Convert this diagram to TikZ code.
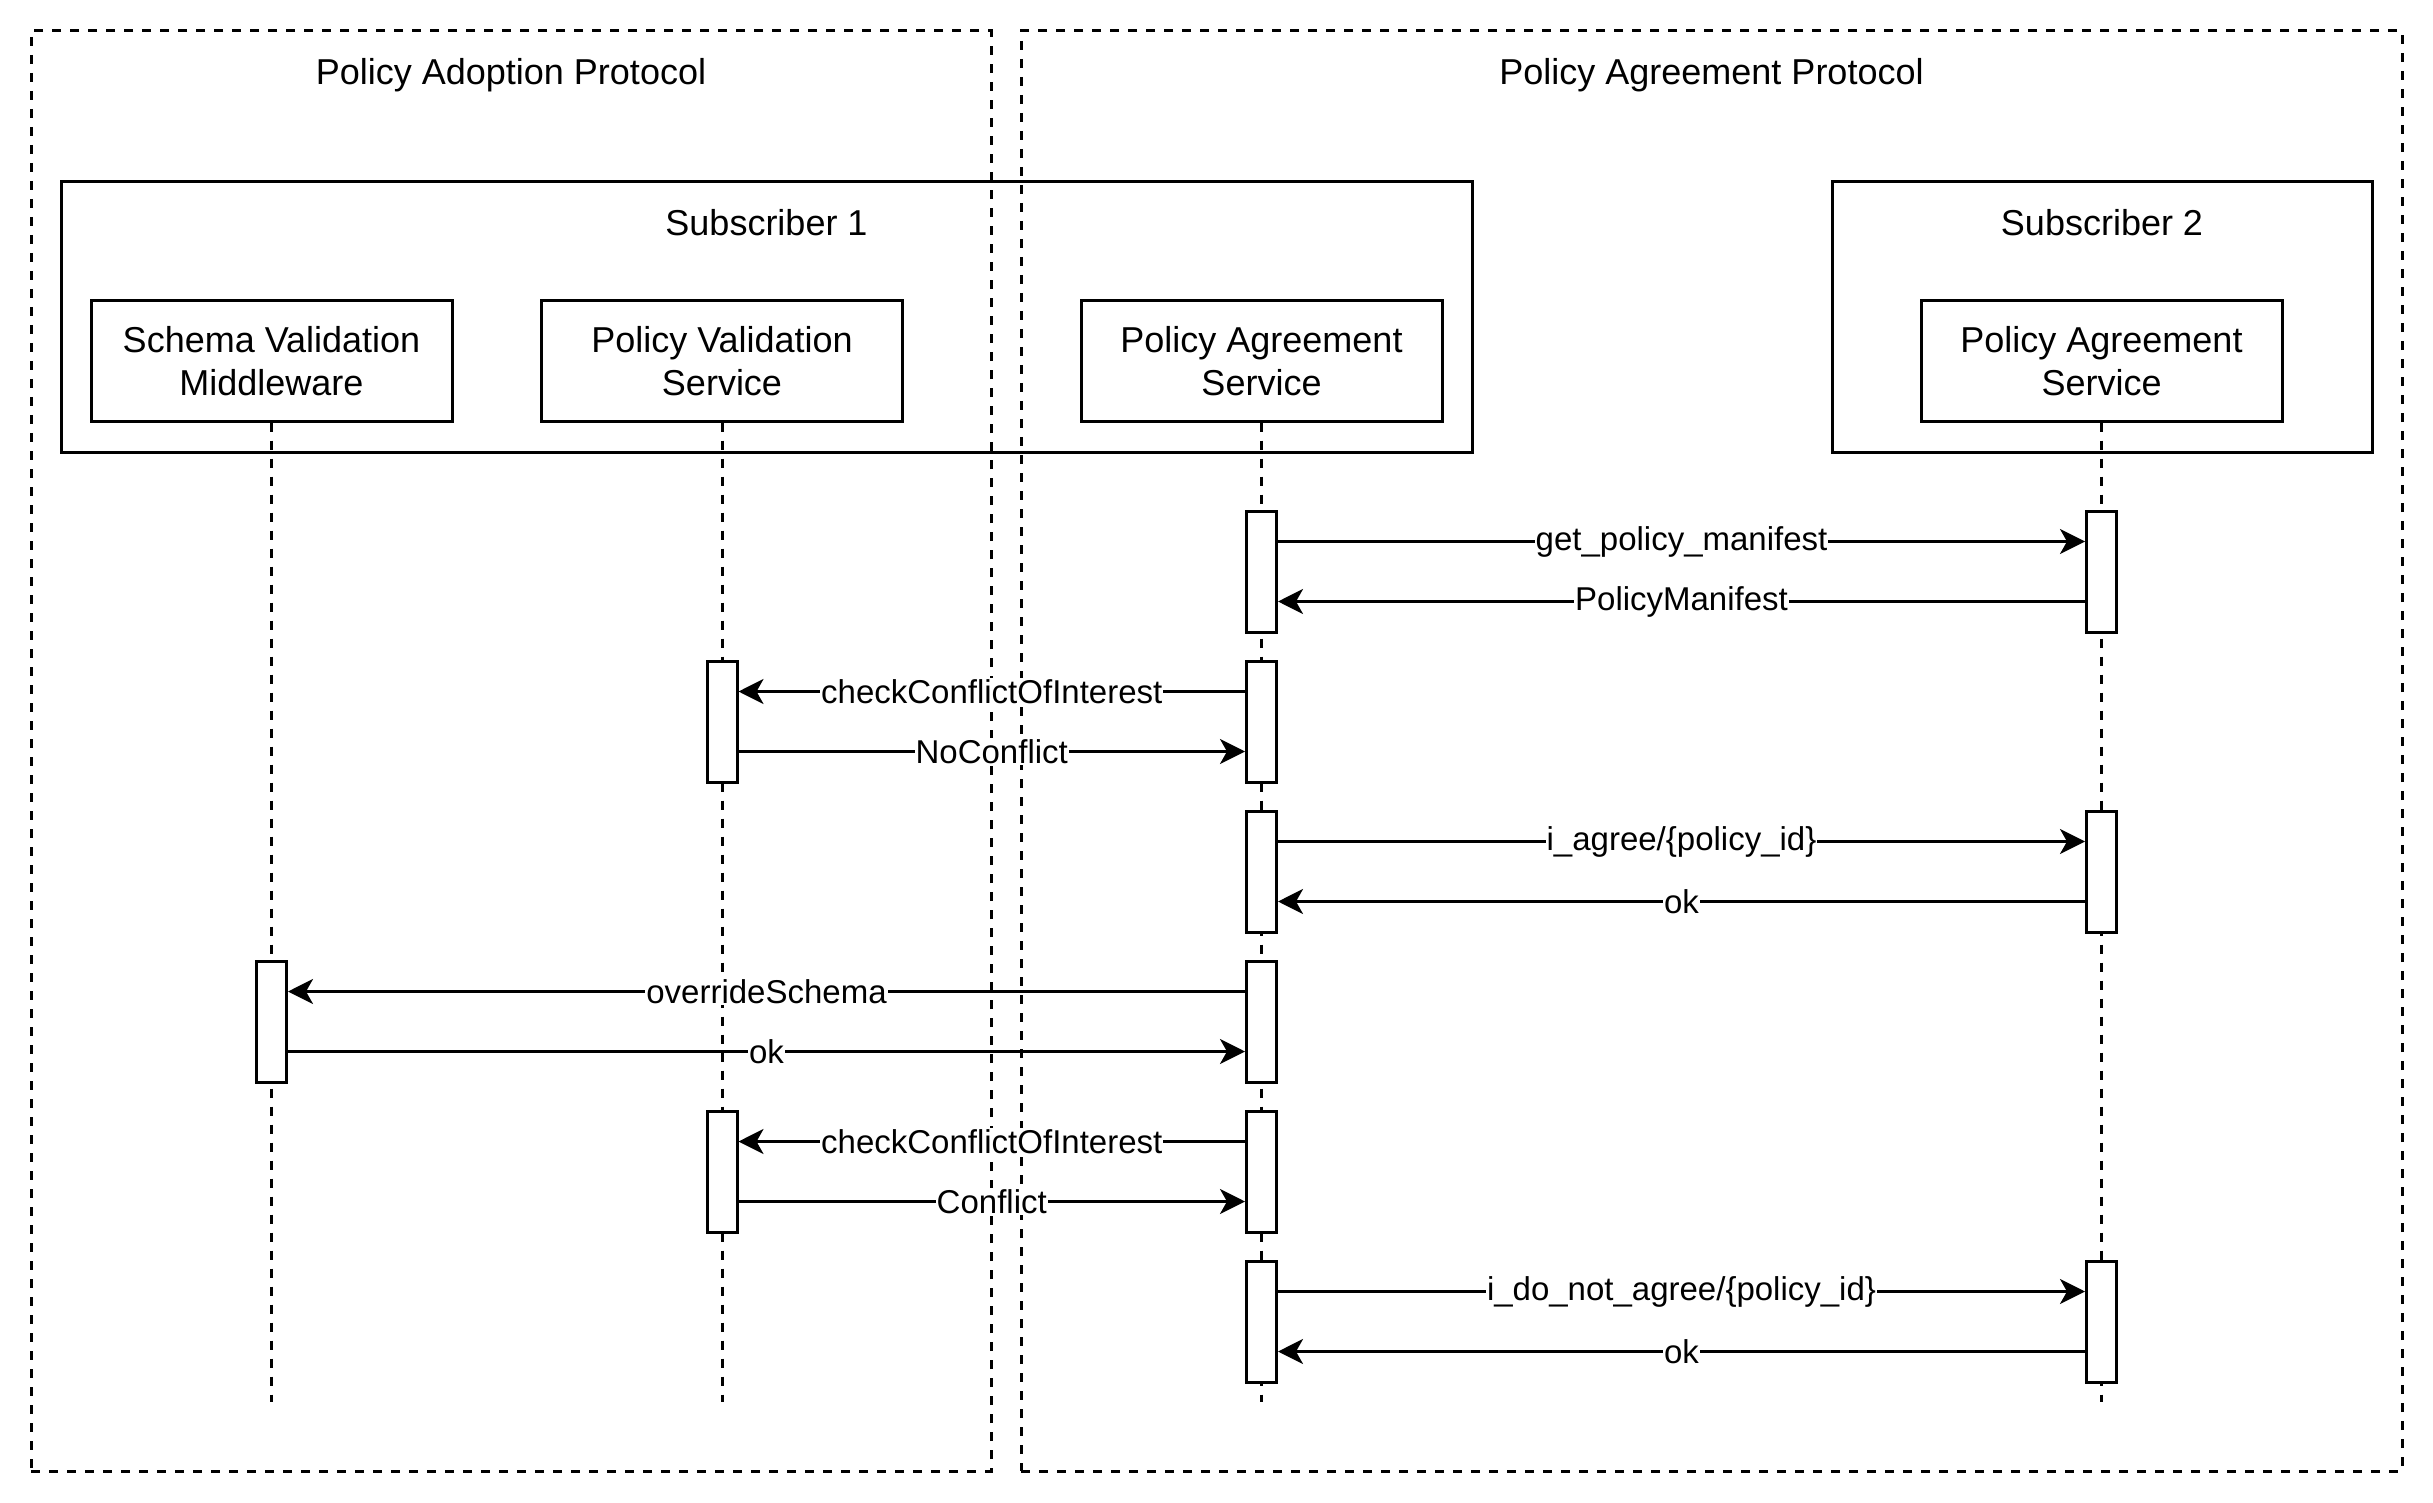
\documentclass[tikz,border=0pt]{standalone}
\usepackage{fontspec}
\setmainfont{Liberation Sans}
\usetikzlibrary{arrows.meta}
\newcommand{\BigText}{\fontsize{36}{43.2}\selectfont}
\newcommand{\MsgText}{\fontsize{33}{38}\selectfont}

\begin{document}
\begin{tikzpicture}[x=1pt, y=-1pt, line width=3pt,
  protoframe/.style={draw, dash pattern=on 9pt off 9pt, minimum height=1440pt, minimum width=#1},
  subbox/.style={draw, minimum height=270pt, minimum width=#1},
  actorbox/.style={draw, fill=white, minimum width=361pt, minimum height=120pt, align=center, font=\BigText},
  actbar/.style={draw, fill=white, minimum width=30pt, minimum height=121pt, inner sep=0pt},
  lifeline/.style={dash pattern=on 9pt off 9pt},
  msg/.style={-{Stealth[length=25pt, width=25pt, inset=7pt]}},
  msglabel/.style={fill=white, inner sep=1pt, font=\MsgText},
  heading/.style={anchor=base, font=\BigText}]

  \useasboundingbox (0,0) rectangle (2433,1503);

  %% protocols
  \node[protoframe=960pt] (adoption) at (511,751) {};
  \node[protoframe=1381pt] (agreement) at (1711.5,751) {};
  \node[heading] (adoption title) at (511,85) {Policy Adoption Protocol};
  \node[heading] (agreement title) at (1711.5,85) {Policy Agreement Protocol};

  %% subscribers
  \node[subbox=1411pt] (sub1) at (766.5,317) {};
  \node[subbox=540pt] (sub2) at (2102,317) {};
  \node[heading] (sub1 title) at (766.5,235.5) {Subscriber 1};
  \node[heading] (sub2 title) at (2102,235.5) {Subscriber 2};

  %% services
  \node[actorbox] (svm) at (271.5,361) {Schema Validation\\Middleware};
  \node[actorbox] (pvs) at (722,361) {Policy Validation\\Service};
  \node[actorbox] (pas1) at (1261.5,361) {Policy Agreement\\Service};
  \node[actorbox] (pas2) at (2101.5,361) {Policy Agreement\\Service};

  \coordinate (end) at (0,1402);
  \draw[lifeline] (svm.south) -- (svm.south |- end);
  \draw[lifeline] (pvs.south) -- (pvs.south |- end);
  \draw[lifeline] (pas1.south) -- (pas1.south |- end);
  \draw[lifeline] (pas2.south) -- (pas2.south |- end);

  %% activations
  \node[actbar] (p1a) at (1261.5,571.5) {};
  \node[actbar] (p2a) at (2101.5,571.5) {};
  \node[actbar] (pvsb) at (722,721.5) {};
  \node[actbar] (p1b) at (1261.5,721.5) {};
  \node[actbar] (p1c) at (1261.5,871.5) {};
  \node[actbar] (p2c) at (2101.5,871.5) {};
  \node[actbar] (svmd) at (271.5,1021.5) {};
  \node[actbar] (p1d) at (1261.5,1021.5) {};
  \node[actbar] (pvse) at (722,1171.5) {};
  \node[actbar] (p1e) at (1261.5,1171.5) {};
  \node[actbar] (p1f) at (1261.5,1321.5) {};
  \node[actbar] (p2f) at (2101.5,1321.5) {};

  %% messages
  \draw[msg] ([yshift=30pt]p1a.east) -- node[msglabel]{get\_policy\_manifest} ([yshift=30pt]p2a.west); %% pas1->pas2
  \draw[msg] ([yshift=-30pt]p2a.west) -- node[msglabel]{PolicyManifest} ([yshift=-30pt]p1a.east); %% pas2->pas1

  \draw[msg] ([yshift=30pt]p1b.west) -- node[msglabel]{checkConflictOfInterest} ([yshift=30pt]pvsb.east); %% pas1->pvs
  \draw[msg] ([yshift=-30pt]pvsb.east) -- node[msglabel]{NoConflict} ([yshift=-30pt]p1b.west); %% pvs->pas1

  \draw[msg] ([yshift=30pt]p1c.east) -- node[msglabel]{i\_agree/\{policy\_id\}} ([yshift=30pt]p2c.west); %% pas1->pas2
  \draw[msg] ([yshift=-30pt]p2c.west) -- node[msglabel]{ok} ([yshift=-30pt]p1c.east); %% pas2->pas1

  \draw[msg] ([yshift=30pt]p1d.west) -- node[msglabel]{overrideSchema} ([yshift=30pt]svmd.east); %% pas1->svm
  \draw[msg] ([yshift=-30pt]svmd.east) -- node[msglabel]{ok} ([yshift=-30pt]p1d.west); %% svm->pas1

  \draw[msg] ([yshift=30pt]p1e.west) -- node[msglabel]{checkConflictOfInterest} ([yshift=30pt]pvse.east); %% pas1->pvs
  \draw[msg] ([yshift=-30pt]pvse.east) -- node[msglabel]{Conflict} ([yshift=-30pt]p1e.west); %% pvs->pas1

  \draw[msg] ([yshift=30pt]p1f.east) -- node[msglabel]{i\_do\_not\_agree/\{policy\_id\}} ([yshift=30pt]p2f.west); %% pas1->pas2
  \draw[msg] ([yshift=-30pt]p2f.west) -- node[msglabel]{ok} ([yshift=-30pt]p1f.east); %% pas2->pas1
\end{tikzpicture}
\end{document}
